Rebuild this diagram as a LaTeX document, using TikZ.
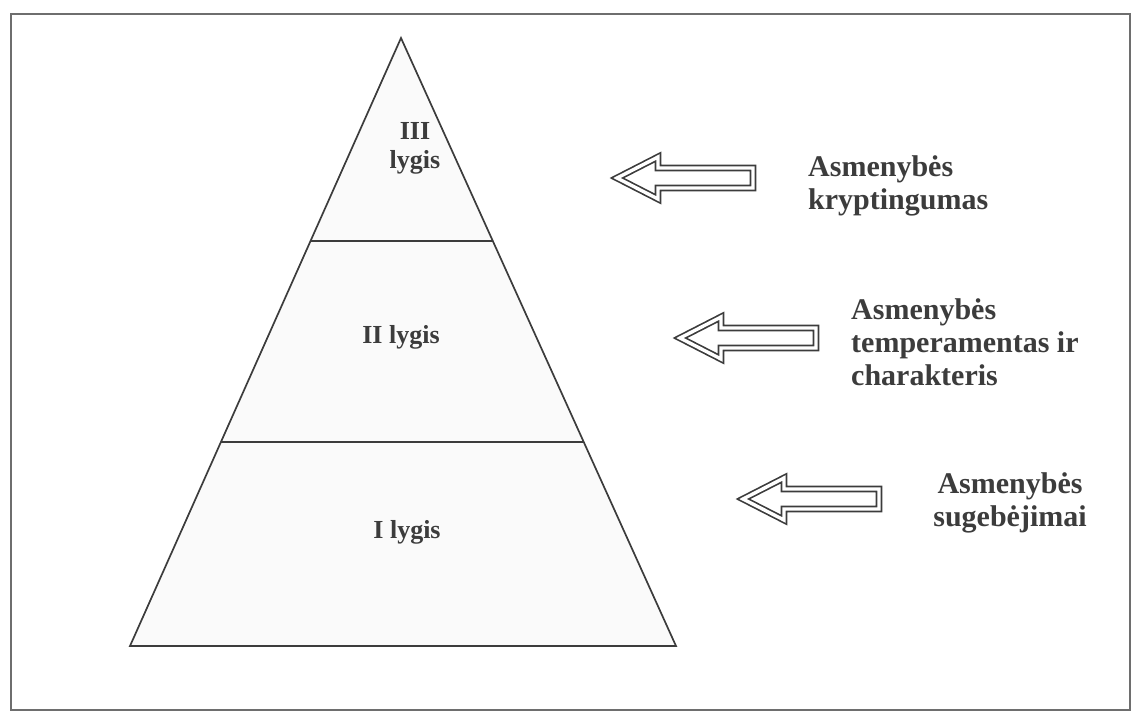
\documentclass[tikz,border=0pt]{standalone}
\usepackage{fontspec}
\setmainfont{Liberation Serif}
\usetikzlibrary{calc}

\definecolor{ink}{HTML}{3C3C3C}
\definecolor{frameink}{HTML}{6E6E6E}

\tikzset{
  frameline/.style={draw=frameink, line width=1.8pt},
  pyramidline/.style={draw=ink, line width=1.7pt, line join=miter},
  levellabel/.style={font=\bfseries\fontsize{26}{29}\selectfont, text=ink, align=center, inner sep=0pt},
  sidelabel/.style={font=\bfseries\fontsize{30}{33}\selectfont, text=ink, inner sep=0pt},
  arrowline/.style={draw=ink, line width=1.7pt, double=white, double distance=3.4pt, line join=miter},
  hollowarrow/.pic={
    \path[arrowline] (0,0) -- (41,-21) -- (41,-10) -- (136,-10) -- (136,10)
      -- (41,10) -- (41,21) -- cycle;
  }
}

\begin{document}
\begin{tikzpicture}[x=1pt, y=-1pt]
  \useasboundingbox (0,0) rectangle (1132,712);

  % outer frame
  \draw[frameline] (11,14) rectangle (1130,710);

  % pyramid outline
  \coordinate (apex) at (401,38);
  \coordinate (bl) at (130,646);
  \coordinate (br) at (676,646);
  \filldraw[pyramidline, fill=black!2] (apex) -- (br) -- (bl) -- cycle;

  % level separators
  \coordinate (l1a) at ($(apex)!0.3339!(bl)$);
  \coordinate (l1b) at ($(apex)!0.3339!(br)$);
  \coordinate (l2a) at ($(apex)!0.6645!(bl)$);
  \coordinate (l2b) at ($(apex)!0.6645!(br)$);
  \draw[pyramidline] (l1a) -- (l1b);
  \draw[pyramidline] (l2a) -- (l2b);

  % level names
  \node[levellabel] (lvl3) at (415,148) {III\\lygis};
  \node[levellabel] (lvl2) at (401,337) {II lygis};
  \node[levellabel] (lvl1) at (407,532) {I lygis};

  % hollow arrows pointing to the levels
  \coordinate (tip3) at (617,178);
  \coordinate (tip2) at (680,338);
  \coordinate (tip1) at (743,499);
  \pic at (tip3) {hollowarrow};
  \pic at (tip2) {hollowarrow};
  \pic at (tip1) {hollowarrow};

  % descriptions
  \node[sidelabel, align=left, anchor=west] (d3) at (808,186)
    {Asmenybės\\kryptingumas};
  \node[sidelabel, align=left, anchor=west] (d2) at (851,342)
    {Asmenybės\\temperamentas ir\\charakteris};
  \node[sidelabel, align=center] (d1) at (1010,503)
    {Asmenybės\\sugebėjimai};
\end{tikzpicture}
\end{document}
